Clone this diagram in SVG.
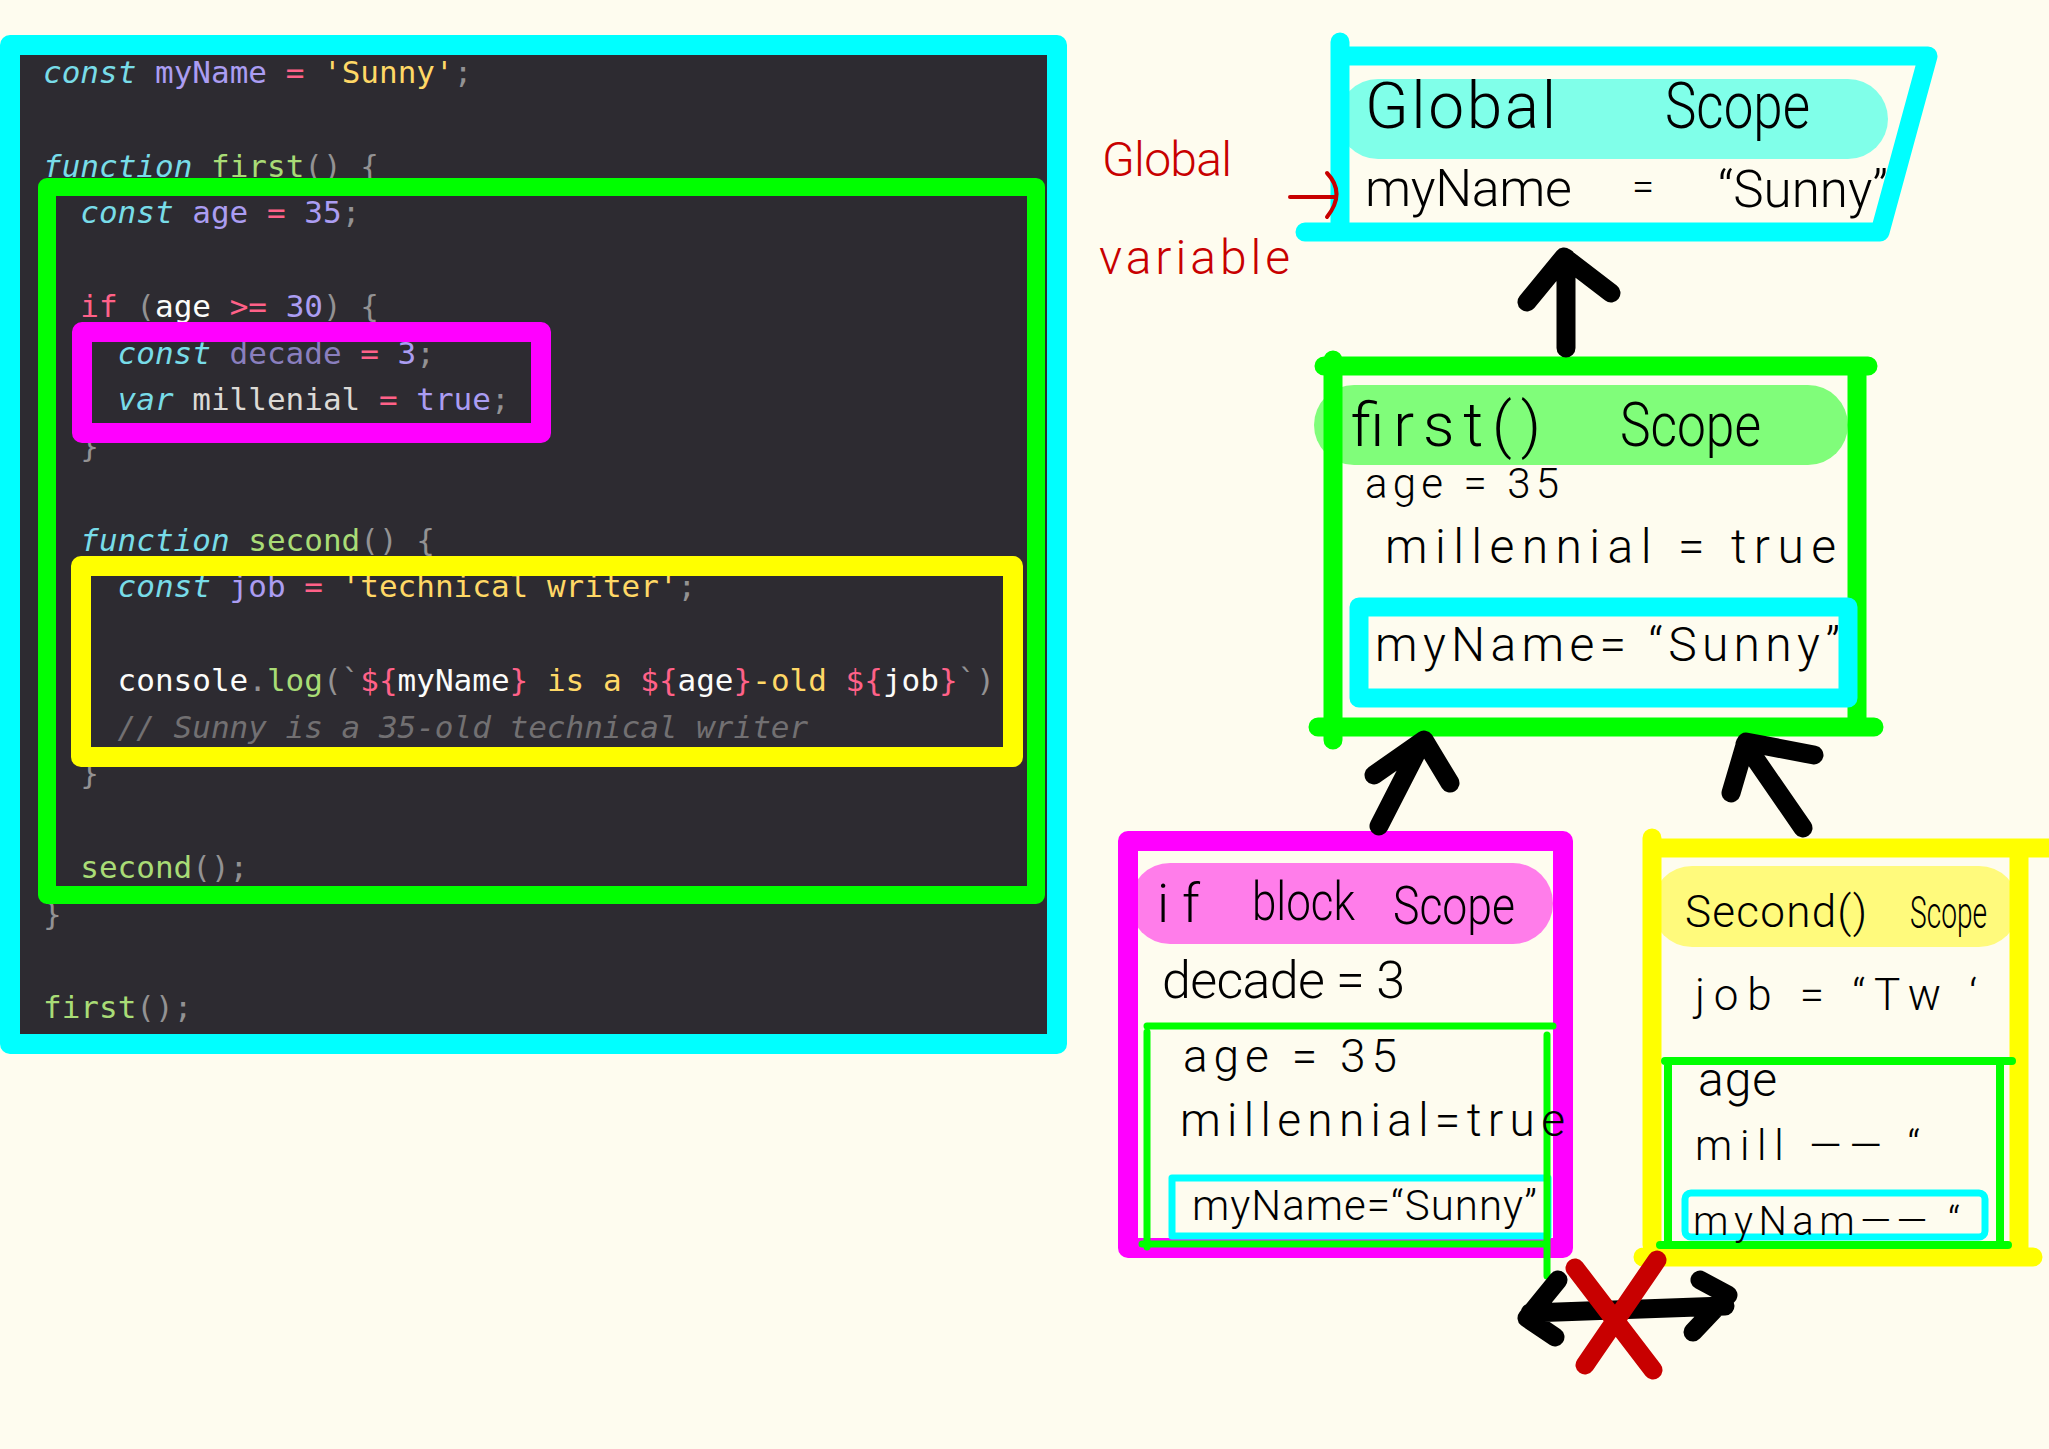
<svg xmlns="http://www.w3.org/2000/svg" width="2049" height="1449" viewBox="0 0 2049 1449">
<style>
.code{font-family:"DejaVu Sans Mono","Liberation Mono",monospace;font-size:31px;white-space:pre}
.kw{fill:#78DCE8;font-style:italic}
.nm{fill:#AB9DF2}
.dim{fill:#8A7FBE}
.op{fill:#FF6188}
.st{fill:#FFD866}
.pu{fill:#939293}
.fn{fill:#A9DC76}
.wh{fill:#FCFCFA}
.w2{fill:#DCDAD6}
.cm{fill:#727072;font-style:italic}
.hw{font-family:Roboto,"Liberation Sans","DejaVu Sans",sans-serif;font-weight:300;fill:#000}
.red{font-family:Roboto,"Liberation Sans","DejaVu Sans",sans-serif;font-weight:300;fill:#C80000}
.mk{fill:none;stroke-linejoin:round;stroke-linecap:round}
.cy{stroke:#00FFFF}
.gr{stroke:#00FF00}
.mg{stroke:#FF00FF}
.yl{stroke:#FFFF00}
.arrow{fill:none;stroke:#000;stroke-width:19;stroke-linecap:round;stroke-linejoin:round}
</style>
<rect x="0" y="0" width="2049" height="1449" fill="#FEFCEF"/>

<g id="code-panel" xml:space="preserve">
<rect x="20" y="55" width="1027" height="979" fill="#2D2B31"/>
<text class="code" x="43" y="83"><tspan class="kw">const</tspan> <tspan class="nm">myName</tspan> <tspan class="op">=</tspan> <tspan class="st">'Sunny'</tspan><tspan class="pu">;</tspan></text>
<text class="code" x="43" y="176.5"><tspan class="kw">function</tspan> <tspan class="fn">first</tspan><tspan class="pu">() {</tspan></text>
<text class="code" x="80.3" y="223.25"><tspan class="kw">const</tspan> <tspan class="nm">age</tspan> <tspan class="op">=</tspan> <tspan class="nm">35</tspan><tspan class="pu">;</tspan></text>
<text class="code" x="80.3" y="316.75"><tspan class="op">if</tspan> <tspan class="pu">(</tspan><tspan class="wh">age</tspan> <tspan class="op">&gt;=</tspan> <tspan class="nm">30</tspan><tspan class="pu">) {</tspan></text>
<text class="code" x="117.6" y="363.5"><tspan class="kw">const</tspan> <tspan class="dim">decade</tspan> <tspan class="op">=</tspan> <tspan class="nm">3</tspan><tspan class="pu">;</tspan></text>
<text class="code" x="117.6" y="410.25"><tspan class="kw">var</tspan> <tspan class="w2">millenial</tspan> <tspan class="op">=</tspan> <tspan class="nm">true</tspan><tspan class="pu">;</tspan></text>
<text class="code pu" x="80.3" y="457">}</text>
<text class="code" x="80.3" y="550.5"><tspan class="kw">function</tspan> <tspan class="fn">second</tspan><tspan class="pu">() {</tspan></text>
<text class="code" x="117.6" y="597.25"><tspan class="kw">const</tspan> <tspan class="nm">job</tspan> <tspan class="op">=</tspan> <tspan class="st">'technical writer'</tspan><tspan class="pu">;</tspan></text>
<text class="code" x="117.6" y="690.75"><tspan class="wh">console</tspan><tspan class="pu">.</tspan><tspan class="fn">log</tspan><tspan class="pu">(`</tspan><tspan class="op">${</tspan><tspan class="wh">myName</tspan><tspan class="op">}</tspan><tspan class="st"> is a </tspan><tspan class="op">${</tspan><tspan class="wh">age</tspan><tspan class="op">}</tspan><tspan class="st">-old </tspan><tspan class="op">${</tspan><tspan class="wh">job</tspan><tspan class="op">}</tspan><tspan class="pu">`)</tspan></text>
<text class="code cm" x="117.6" y="737.5">// Sunny is a 35-old technical writer</text>
<text class="code pu" x="80.3" y="784.25">}</text>
<text class="code" x="80.3" y="877.75"><tspan class="fn">second</tspan><tspan class="pu">();</tspan></text>
<text class="code pu" x="43" y="924.5">}</text>
<text class="code" x="43" y="1018"><tspan class="fn">first</tspan><tspan class="pu">();</tspan></text>
<rect class="mk mg" x="82" y="332" width="459" height="101" stroke-width="20"/>
<rect class="mk yl" x="81" y="566" width="932" height="191" stroke-width="20"/>
<rect class="mk gr" x="47" y="187" width="989" height="708" stroke-width="18"/>
<rect class="mk cy" x="10" y="45" width="1047" height="999" stroke-width="20"/>
</g>

<g id="global-scope">
<rect x="1338" y="79" width="550" height="80" rx="40" fill="#80FFE9"/>
<path class="mk cy" stroke-width="19" d="M1340,42 V222 M1340,56 H1928 L1880,232 H1305"/>
<text class="hw" x="1365" y="128" font-size="64" textLength="191" lengthAdjust="spacing">Global</text>
<text class="hw" x="1665" y="128" font-size="64" textLength="145" lengthAdjust="spacingAndGlyphs">Scope</text>
<text class="hw" x="1365" y="206" font-size="52" textLength="207" lengthAdjust="spacing">myName</text>
<text class="hw" x="1632" y="200" font-size="40">=</text>
<text class="hw" x="1718" y="207" font-size="52" textLength="170" lengthAdjust="spacingAndGlyphs">“Sunny”</text>
</g>

<g id="global-variable-note">
<text class="red" x="1102" y="176" font-size="48" textLength="130" lengthAdjust="spacing">Global</text>
<text class="red" x="1099" y="274" font-size="48" textLength="191" lengthAdjust="spacing">variable</text>
<path fill="none" stroke="#C80000" stroke-width="4" stroke-linecap="round" d="M1290,197 H1334 M1327,173 Q1346,193 1327,217"/>
</g>

<g id="first-scope">
<rect x="1314" y="385" width="534" height="80" rx="40" fill="#80FD7A"/>
<path class="mk gr" stroke-width="19" d="M1324,366 H1868 M1333,360 V740 M1857,366 V727 M1318,727 H1874"/>
<rect class="mk cy" x="1359" y="607" width="489" height="91" stroke-width="19"/>
<text class="hw" x="1351" y="446" font-size="62" textLength="190" lengthAdjust="spacing">first()</text>
<text class="hw" x="1620" y="446" font-size="62" textLength="141" lengthAdjust="spacingAndGlyphs">Scope</text>
<text class="hw" x="1365" y="498" font-size="42" textLength="194" lengthAdjust="spacing">age = 35</text>
<text class="hw" x="1385" y="563" font-size="48" textLength="451" lengthAdjust="spacing">millennial = true</text>
<text class="hw" x="1375" y="661" font-size="48" textLength="465" lengthAdjust="spacing">myName= “Sunny”</text>
</g>

<g id="if-block-scope">
<rect x="1130" y="863" width="423" height="81" rx="40" fill="#FF7DEA"/>
<rect class="mk mg" x="1128" y="841" width="435" height="407" stroke-width="20"/>
<rect class="mk cy" x="1172" y="1178" width="376" height="58" stroke-width="7"/>
<path class="mk gr" stroke-width="7" d="M1147,1026 H1553 M1147,1032 V1247 M1547,1035 V1276 M1142,1244 H1547"/>
<text class="hw" x="1157" y="922" font-size="54" textLength="43" lengthAdjust="spacing">if</text>
<text class="hw" x="1252" y="920" font-size="54" textLength="103" lengthAdjust="spacingAndGlyphs">block</text>
<text class="hw" x="1393" y="924" font-size="54" textLength="122" lengthAdjust="spacingAndGlyphs">Scope</text>
<text class="hw" x="1162" y="998" font-size="52" textLength="243" lengthAdjust="spacing">decade = 3</text>
<text class="hw" x="1183" y="1072" font-size="46" textLength="214" lengthAdjust="spacing">age = 35</text>
<text class="hw" x="1180" y="1136" font-size="46" textLength="385" lengthAdjust="spacing">millennial=true</text>
<text class="hw" x="1192" y="1220" font-size="42" textLength="345" lengthAdjust="spacing">myName=“Sunny”</text>
</g>

<g id="second-scope">
<rect x="1652" y="866" width="367" height="81" rx="40" fill="#FFFA7C"/>
<path class="mk yl" stroke-width="19" d="M1652,848 H2049 M1652,838 V1245 M2019,848 V1256 M1643,1257 H2033"/>
<rect class="mk cy" x="1685" y="1193" width="300" height="44" rx="6" stroke-width="7"/>
<path class="mk gr" stroke-width="8" d="M1665,1061 H2012 M1668,1061 V1245 M2000,1061 V1245 M1660,1245 H2008"/>
<text class="hw" x="1685" y="927" font-size="44" textLength="182" lengthAdjust="spacing">Second()</text>
<text class="hw" x="1910" y="928" font-size="44" textLength="77" lengthAdjust="spacingAndGlyphs">Scope</text>
<text class="hw" x="1695" y="1010" font-size="44" textLength="282" lengthAdjust="spacing">job = “Tw ‘</text>
<text class="hw" x="1698" y="1096" font-size="48" textLength="79" lengthAdjust="spacing">age</text>
<text class="hw" x="1695" y="1160" font-size="42" textLength="225" lengthAdjust="spacing">mill —— “</text>
<text class="hw" x="1693" y="1235" font-size="40" textLength="267" lengthAdjust="spacing">myNam—— “</text>
</g>

<g id="connectors">
<path class="arrow" d="M1566,348 V258 M1527,302 L1564,257 L1611,293"/>
<path class="arrow" d="M1379,826 L1422,742 M1374,775 L1424,740 L1450,783"/>
<path class="arrow" d="M1803,828 L1745,744 M1731,793 L1746,742 L1814,755"/>
<path class="arrow" d="M1530,1313 L1725,1306 M1558,1280 L1527,1318 L1555,1337 M1700,1280 L1728,1295 L1693,1332"/>
<path fill="none" stroke="#C80000" stroke-width="19" stroke-linecap="round" d="M1575,1268 L1653,1370 M1657,1260 L1585,1365"/>
</g>
</svg>
